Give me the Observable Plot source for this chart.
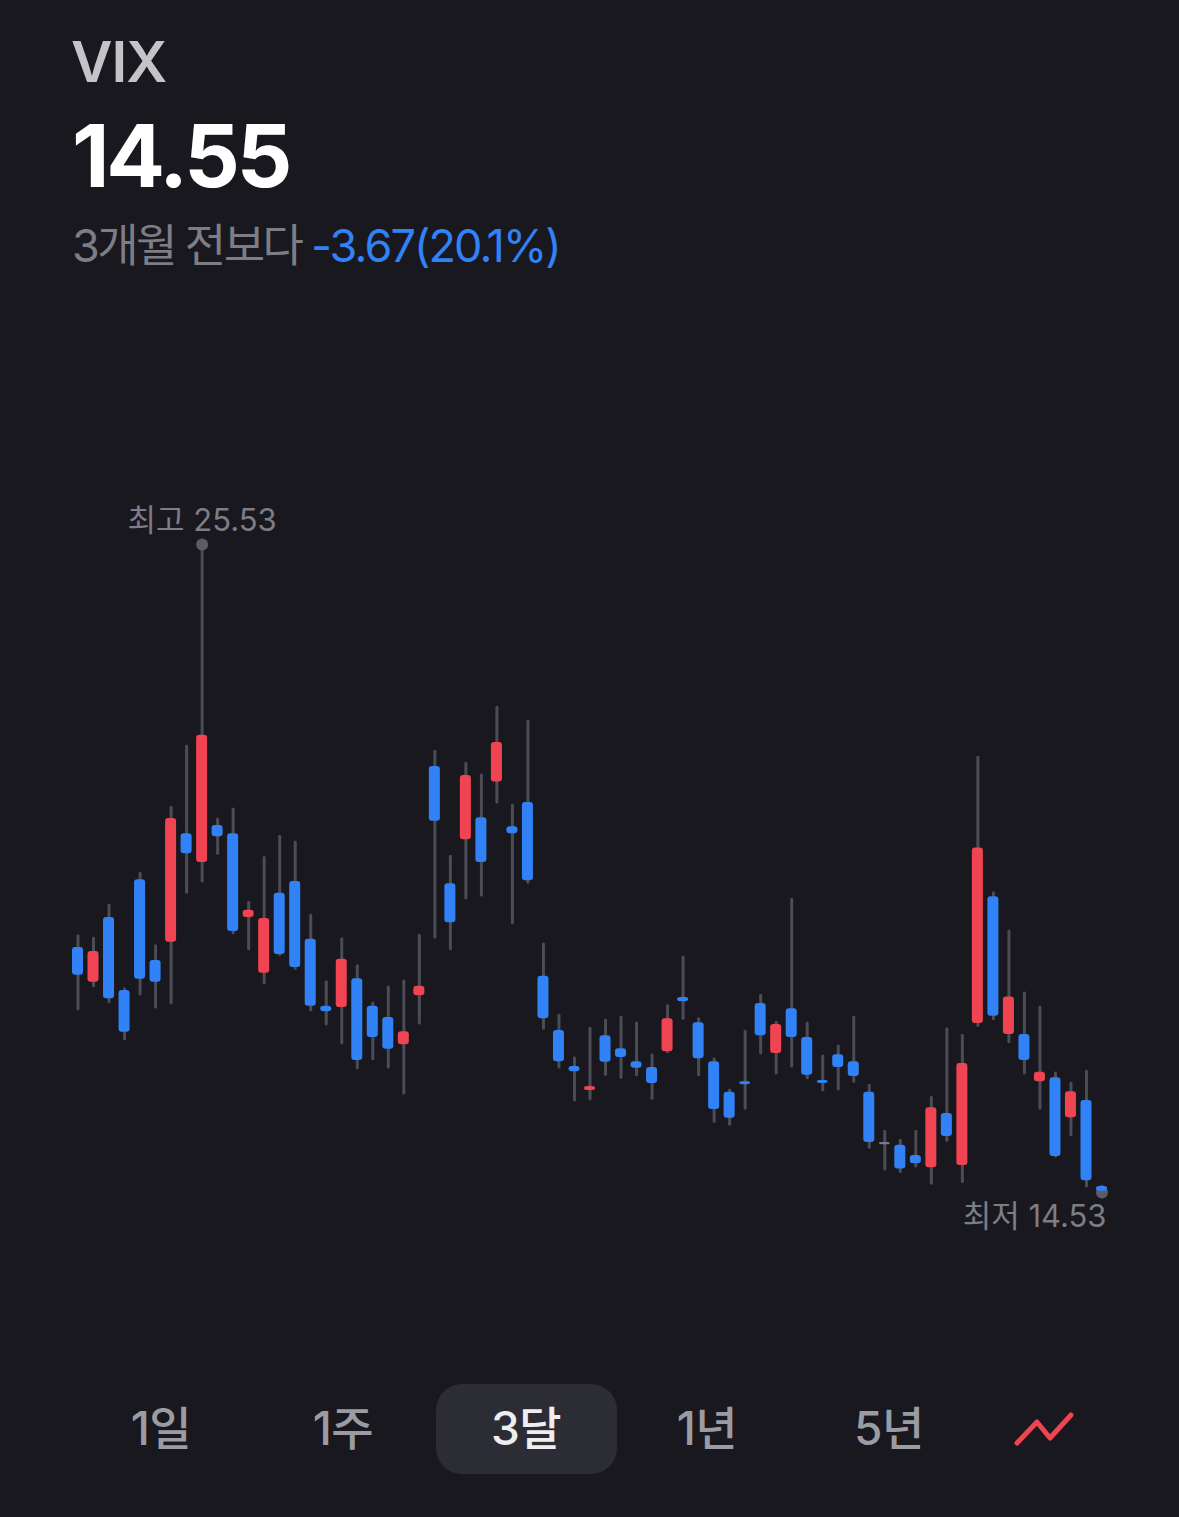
<!DOCTYPE html>
<html lang="ko">
<head>
<meta charset="utf-8">
<script src="https://cdn.jsdelivr.net/npm/d3@7"></script>
<script src="https://cdn.jsdelivr.net/npm/@observablehq/plot@0.6"></script>
<style>
  html,body{margin:0;padding:0;background:#18181e;}
  body{width:1179px;height:1517px;overflow:hidden;font-family:"Inter","Noto Sans CJK KR",sans-serif;}
  #head{position:relative;height:480px;}
  #head div{position:absolute;white-space:nowrap;}
  #name{left:71px;top:28px;font-size:57px;line-height:68px;font-weight:600;color:#c3c3c8;letter-spacing:-1px;}
  #price{left:72px;top:104px;font-size:87px;line-height:104px;font-weight:700;color:#fff;letter-spacing:-3.2px;}
  #delta{left:72px;top:218px;font-size:45px;line-height:56px;font-weight:400;color:#7d7d85;letter-spacing:-2.6px;}
  #delta span{color:#3182f6;letter-spacing:-1.9px;}
  #foot{position:relative;height:267px;}
  #pill{position:absolute;left:436px;top:134px;width:181px;height:90px;border-radius:26px;background:#2c2c35;}
  .tab{position:absolute;top:146px;width:160px;text-align:center;font-size:46px;line-height:64px;font-weight:500;color:#9b9ba2;letter-spacing:-0.5px;}
  .tab.on{color:#eeeef0;}
  #icon{position:absolute;left:1000px;top:150px;}
</style>
</head>
<body>
<div id="head">
  <div id="name"></div>
  <div id="price"></div>
  <div id="delta"></div>
</div>
<div id="chart"></div>
<div id="foot"></div>
<script>
const ticker = "VIX";
const lastPrice = "14.55";
const deltaLabel = "3개월 전보다 ";
const deltaValue = "-3.67(20.1%)";
const tabs = ["1일", "1주", "3달", "1년", "5년"];
const tabCenters = [161, 343, 526, 707, 889];
const activeTab = "3달";

const high  = [18.88,18.84,19.40,17.98,19.94,18.71,21.06,22.10,25.53,20.86,21.03,19.45,20.21,20.57,20.47,19.23,18.10,18.83,18.37,17.74,18.01,18.11,18.89,22.01,20.23,21.81,21.61,22.76,21.10,22.52,18.74,17.53,16.81,17.31,17.45,17.50,17.40,16.86,17.69,18.52,17.47,16.79,16.26,17.26,17.87,17.41,19.50,17.40,16.84,17.01,17.50,16.34,15.56,15.41,15.56,16.14,17.30,17.19,21.91,19.61,18.96,17.91,17.67,16.55,16.38,16.58,14.63];
const low   = [17.64,18.03,17.76,17.13,17.89,17.67,17.74,19.62,19.81,20.28,18.93,18.66,18.08,18.56,18.33,17.62,17.38,17.06,16.64,16.79,16.65,16.21,17.40,18.86,18.66,19.52,19.57,21.15,19.10,19.79,17.31,16.65,16.09,16.11,16.53,16.48,16.52,16.12,16.91,17.48,16.52,15.73,15.68,15.95,16.89,16.55,16.67,16.47,16.26,16.28,16.41,15.29,14.92,14.88,14.97,14.68,15.41,14.71,17.36,17.47,17.08,16.55,15.95,15.14,15.50,14.63,14.53];
const open  = [18.69,18.10,19.20,17.96,19.84,18.47,18.78,20.62,20.13,20.76,20.62,19.20,18.25,19.61,19.81,18.83,17.69,17.67,18.16,17.69,17.50,17.04,17.87,21.76,19.77,20.52,20.89,21.50,20.74,21.15,18.20,17.28,16.67,16.26,17.19,16.97,16.75,16.65,16.92,17.84,17.41,16.75,16.23,16.41,17.74,16.89,17.65,17.16,16.43,16.87,16.75,16.23,15.38,15.33,15.16,14.95,15.87,14.99,17.40,19.55,17.21,17.21,16.41,16.48,15.80,16.09,14.63];
const close = [18.22,18.62,17.82,17.25,18.15,18.10,20.88,20.28,22.29,20.57,18.96,19.32,19.18,18.57,18.35,17.69,17.60,18.49,16.77,17.16,16.96,17.26,18.03,20.83,19.11,21.61,20.13,22.17,20.62,19.82,17.48,16.75,16.58,16.33,16.74,16.82,16.64,16.38,17.48,17.77,16.80,15.94,15.79,16.36,17.19,17.38,17.16,16.52,16.38,16.65,16.50,15.38,15.34,14.93,15.02,15.97,15.48,16.72,20.38,17.52,17.85,16.77,16.57,15.14,16.24,14.73,14.55];
const flatDays = [52];
const peak = {i: 8, value: 25.53, label: "최고 25.53"};
const trough = {i: 66, value: 14.53, label: "최저 14.53"};

const candles = high.map((h, i) => ({
  i, high: h, low: low[i], open: open[i], close: close[i],
  dir: flatDays.includes(i) ? "flat" : close[i] > open[i] ? "up" : "down"
}));

document.getElementById("name").textContent = ticker;
document.getElementById("price").textContent = lastPrice;
const delta = document.getElementById("delta");
delta.textContent = deltaLabel;
const sp = document.createElement("span");
sp.textContent = deltaValue;
delta.appendChild(sp);

const chart = Plot.plot({
  width: 1179,
  height: 770,
  marginLeft: 69.74,
  marginRight: 69.74,
  marginTop: 64,
  marginBottom: 58,
  style: {background: "transparent", fontFamily: '"Inter","Noto Sans CJK KR",sans-serif'},
  x: {type: "band", domain: d3.range(candles.length), padding: 0, round: false, axis: null},
  y: {domain: [14.53, 25.53], axis: null},
  color: {domain: ["up", "down", "flat"], range: ["#f04452", "#3182f6", "#7c7c85"]},
  marks: [
    Plot.ruleX(candles, {x: "i", y1: "low", y2: "high", stroke: "#4c4c57", strokeWidth: 3, strokeLinecap: "round"}),
    Plot.dot([peak, trough], {x: "i", y: "value", r: 6, fill: "#5c5c65"}),
    Plot.barY(candles, {x: "i", y1: "open", y2: "close", fill: "dir", insetLeft: 2.25, insetRight: 2.25, rx: 3}),
    Plot.text([peak], {x: "i", y: "value", text: "label", dy: -23, fill: "#7d7d85", fontSize: 31, textAnchor: "middle"}),
    Plot.text([trough], {x: "i", y: "value", text: "label", dy: 25, dx: 4.5, fill: "#7d7d85", fontSize: 31, textAnchor: "end"})
  ]
});
document.getElementById("chart").appendChild(chart);

const foot = document.getElementById("foot");
const pill = document.createElement("div");
pill.id = "pill";
foot.appendChild(pill);
tabs.forEach((t, k) => {
  const el = document.createElement("div");
  el.className = "tab" + (t === activeTab ? " on" : "");
  el.style.left = (tabCenters[k] - 80) + "px";
  el.textContent = t;
  foot.appendChild(el);
});
foot.insertAdjacentHTML("beforeend",
  '<svg id="icon" width="90" height="60"><polyline points="17,43 37,22 50,38 71,15" fill="none" stroke="#f04452" stroke-width="5" stroke-linecap="round" stroke-linejoin="round"/></svg>');
</script>
</body>
</html>
